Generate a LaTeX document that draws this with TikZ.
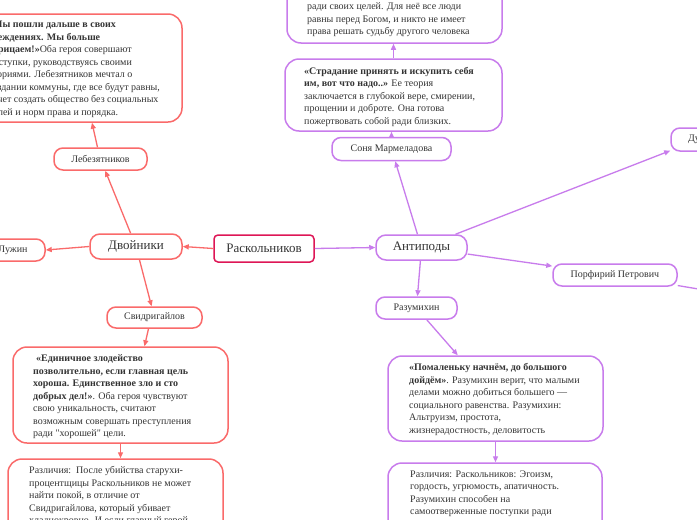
\documentclass[tikz,border=0pt]{standalone}
\usepackage{fontspec}
\setmainfont{Liberation Serif}[Ligatures=TeXOff]
\usetikzlibrary{arrows.meta,calc}
\definecolor{redl}{RGB}{250,106,106}
\definecolor{purl}{RGB}{200,124,236}
\definecolor{crim}{RGB}{222,22,86}
\definecolor{txt}{RGB}{52,52,52}
\tikzset{
  pill/.style={draw, line width=1.5pt, rounded corners=9pt, fill=white, text=txt,
    font=\fontsize{10}{12}\selectfont, inner sep=0pt, minimum height=22pt},
  bigpill/.style={pill, font=\fontsize{13}{15}\selectfont, minimum height=25pt, rounded corners=10pt},
  bigbox/.style={draw, line width=1.5pt, rounded corners=14pt, fill=white, inner sep=0pt},
  body/.style={text=txt, font=\fontsize{10}{12.5}\selectfont, align=left, inner sep=0pt, anchor=west},
  arr/.style={-{Triangle[length=6pt,width=5pt]}, line width=1.3pt},
  plainline/.style={line width=1.3pt},
}
\begin{document}
\begin{tikzpicture}[x=1pt,y=-1pt]
\useasboundingbox (0,0) rectangle (697,520);
\fill[white] (0,0) rectangle (697,520);
\clip (0,0) rectangle (697,520);

% central
\node[draw=crim, line width=1.5pt, rounded corners=4pt, text=txt, fill=white,
  font=\fontsize{13}{15}\selectfont, inner sep=0pt, minimum width=100pt, minimum height=27pt]
  (rask) at (264,248.5) {Раскольников};

% Doubles branch (red)
\node[bigpill, draw=redl, minimum width=92pt] (dvo) at (136,246.5) {Двойники};
\node[pill, draw=redl, minimum width=64pt] (luzh) at (13,250) {Лужин};
\node[pill, draw=redl, minimum width=93pt] (lebe) at (100.5,159) {Лебезятников};
\node[pill, draw=redl, minimum width=95pt, minimum height=21pt] (svid) at (154.5,317.5) {Свидригайлов};

\node[bigbox, draw=redl, minimum width=242pt, minimum height=108pt] (tl) at (61,68) {};
\node[body] (tlt) at (-12,69.5) {\textbf{«Мы пошли дальше в своих}\\
\textbf{убеждениях. Мы больше}\\
\textbf{отрицаем!»}Оба героя совершают\\
поступки, руководствуясь своими\\
теориями. Лебезятников мечтал о\\
создании коммуны, где все будут равны,\\
хочет создать общество без социальных\\
ролей и норм права и порядка.};

\node[bigbox, draw=redl, minimum width=215pt, minimum height=96pt] (sb) at (120.5,395) {};
\node[body] (sbt) at (33,397) {\hspace{3pt}\textbf{«Единичное злодейство}\\
\textbf{позволительно, если главная цель}\\
\textbf{хороша. Единственное зло и сто}\\
\textbf{добрых дел!»}. Оба героя чувствуют\\
свою уникальность, считают\\
возможным совершать преступления\\
ради "хорошей" цели.};

\node[bigbox, draw=redl, minimum width=215pt, minimum height=141pt] (sl) at (115.5,529.5) {};
\node[body] (slt) at (29,496) {Различия:\ \ После убийства старухи-\\
процентщицы Раскольников не может\\
найти покой, в отличие от\\
Свидригайлова, который убивает\\
хладнокровно. И если главный герой};

% Antipodes branch (purple)
\node[bigpill, draw=purl, minimum width=91pt] (ant) at (421.5,247.5) {Антиподы};
\node[pill, draw=purl, minimum width=119pt, minimum height=23pt] (sonya) at (391.5,149) {Соня Мармеладова};
\node[pill, draw=purl, minimum width=56pt, minimum height=23pt] (dunya) at (699,139.5) {Дуня};
\node[pill, draw=purl, minimum width=124pt] (porf) at (615,275) {Порфирий Петрович};
\node[pill, draw=purl, minimum width=81pt] (razu) at (416.5,308) {Разумихин};
\coordinate (offr) at (740,296);

\node[bigbox, draw=purl, minimum width=217pt, minimum height=72pt] (sn) at (393.5,95) {};
\node[body] (snt) at (304,96.5) {\textbf{«Страдание принять и искупить себя}\\
\textbf{им, вот что надо..»} Ее теория\\
заключается в глубокой вере, смирении,\\
прощении и доброте. Она готова\\
пожертвовать собой ради близких.};

\node[bigbox, draw=purl, minimum width=215pt, minimum height=103pt] (su) at (394.5,-8.5) {};
\node[body] (sut) at (307,20) {ради своих целей. Для неё все люди\\
равны перед Богом, и никто не имеет\\
права решать судьбу другого человека};

\node[bigbox, draw=purl, minimum width=215pt, minimum height=85pt] (rb) at (495.5,398.5) {};
\node[body] (rbt) at (409,399.5) {\textbf{«Помаленьку начнём, до большого}\\
\textbf{дойдём»}. Разумихин верит, что малыми\\
делами можно добиться большего —\\
социального равенства. Разумихин:\\
Альтруизм, простота,\\
жизнерадостность, деловитость};

\node[bigbox, draw=purl, minimum width=214pt, minimum height=137pt] (rl) at (495,531.5) {};
\node[body] (rlt) at (410,494) {Различия: Раскольников: Эгоизм,\\
гордость, угрюмость, апатичность.\\
Разумихин способен на\\
самоотверженные поступки ради};

% connectors red
\draw[arr, redl] (rask.west) -- (dvo.east);
\draw[arr, redl] (dvo.west) -- (luzh.east);
\draw[arr, redl] (dvo) -- (lebe);
\draw[arr, redl] (dvo) -- (svid);
\draw[arr, redl] ($(lebe.north)+(-3,0)$) -- ($(tl.south)+(31,0)$);
\draw[arr, redl] ($(svid.south)+(-6,0)$) -- ($(sb.north)+(24,0)$);
\draw[arr, redl] (sb.south) -- (sb.south |- sl.north);

% connectors purple
\draw[arr, purl] (rask.east) -- (ant.west);
\draw[arr, purl] (ant) -- (sonya);
\draw[arr, purl] (sonya.north) -- (sonya.north |- sn.south);
\draw[arr, purl] (sn.north) -- (sn.north |- su.south);
\draw[arr, purl] (ant) -- (dunya);
\draw[arr, purl] (ant) -- (porf);
\draw[plainline, purl] (porf) -- (offr);
\draw[arr, purl] (ant) -- (razu);
\draw[arr, purl] (razu) -- (rb);
\draw[arr, purl] (rb.south) -- (rb.south |- rl.north);
\end{tikzpicture}
\end{document}
